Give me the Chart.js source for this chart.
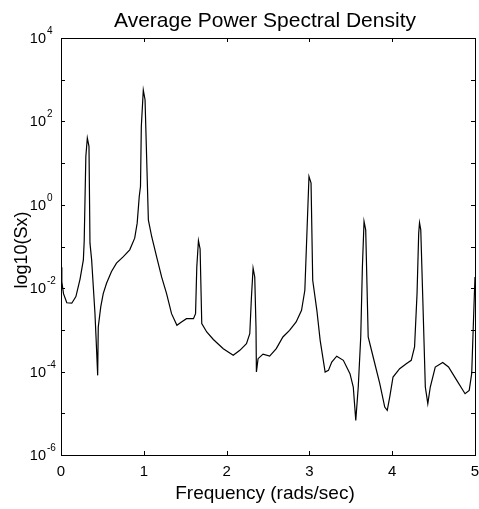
<!DOCTYPE html>
<html>
<head>
<meta charset="utf-8">
<script src="https://cdn.jsdelivr.net/npm/chart.js@4"></script>
<style>
  html, body { margin: 0; padding: 0; background: #fff; }
  canvas { display: block; }
</style>
</head>
<body>
<canvas id="psdChart" width="479" height="509"></canvas>
<script>
// frequency (rads/sec)
const freq = [
    0.00, 0.01, 0.03, 0.07, 0.13, 0.18, 0.23, 0.27, 0.28, 0.30,
    0.318, 0.338, 0.35, 0.37, 0.41, 0.423, 0.443, 0.45, 0.48, 0.51,
    0.55, 0.61, 0.67, 0.75, 0.83, 0.89, 0.92, 0.945, 0.96, 0.97,
    0.994, 1.015, 1.035, 1.055, 1.095, 1.155, 1.215, 1.275, 1.335, 1.40,
    1.455, 1.515, 1.60, 1.625, 1.64, 1.66, 1.68, 1.70, 1.76, 1.84,
    1.96, 2.08, 2.16, 2.24, 2.28, 2.30, 2.32, 2.34, 2.355, 2.36,
    2.38, 2.44, 2.52, 2.60, 2.68, 2.76, 2.84, 2.905, 2.945, 2.97,
    2.995, 3.02, 3.04, 3.09, 3.13, 3.19, 3.23, 3.27, 3.33, 3.41,
    3.49, 3.53, 3.56, 3.59, 3.62, 3.64, 3.66, 3.68, 3.71, 3.77,
    3.85, 3.91, 3.94, 3.97, 4.01, 4.09, 4.17, 4.23, 4.27, 4.30,
    4.32, 4.33, 4.345, 4.37, 4.40, 4.43, 4.46, 4.52, 4.61, 4.68,
    4.78, 4.88, 4.93, 4.96, 4.99, 5.00
];

// log10 of the spectral density
const logSx = [
    -1.50, -1.85, -2.13, -2.35, -2.36, -2.20, -1.78, -1.32, -0.88, 1.16,
    1.60, 1.40, -0.92, -1.32, -2.60, -3.17, -4.09, -2.93, -2.45, -2.13,
    -1.88, -1.60, -1.40, -1.25, -1.08, -0.80, -0.44, 0.20, 0.44, 1.88,
    2.75, 2.52, 1.08, -0.36, -0.76, -1.25, -1.73, -2.13, -2.61, -2.89,
    -2.81, -2.73, -2.73, -2.61, -1.49, -0.86, -1.06, -2.85, -3.05, -3.23,
    -3.45, -3.61, -3.49, -3.33, -3.09, -2.21, -1.52, -1.73, -2.93, -4.01,
    -3.69, -3.58, -3.63, -3.45, -3.17, -3.01, -2.81, -2.53, -2.05, -0.68,
    0.68, 0.52, -1.81, -2.53, -3.25, -4.01, -3.97, -3.77, -3.63, -3.73,
    -4.05, -4.37, -5.17, -4.37, -3.17, -1.49, -0.40, -0.60, -3.17, -3.65,
    -4.29, -4.85, -4.93, -4.61, -4.13, -3.93, -3.81, -3.73, -3.41, -2.13,
    -0.68, -0.43, -0.60, -2.29, -4.37, -4.77, -4.37, -3.89, -3.78, -3.89,
    -4.21, -4.53, -4.45, -4.05, -2.29, -1.73
];

const xTicks = [0, 1, 2, 3, 4, 5];
const yTickExps = [-6, -5, -4, -3, -2, -1, 0, 1, 2, 3, 4];
const yLabelExps = [-6, -4, -2, 0, 2, 4];

const FONT = '"Liberation Sans", Arial, Helvetica, sans-serif';

const points = freq.map((f, i) => ({ x: f, y: Math.pow(10, logSx[i]) }));

// frame, inward ticks and all labels, matlab style
const matlabAxes = {
    id: 'matlabAxes',
    beforeDraw(chart) {
        const ctx = chart.ctx;
        ctx.save();
        ctx.fillStyle = '#fff';
        ctx.fillRect(0, 0, chart.width, chart.height);
        ctx.restore();
    },
    afterDraw(chart) {
        const ctx = chart.ctx;
        const area = chart.chartArea;
        const xs = chart.scales.x;
        const ys = chart.scales.y;

        ctx.save();
        ctx.strokeStyle = '#000';
        ctx.lineWidth = 1;
        ctx.strokeRect(area.left + 0.5, area.top + 0.5, area.right - area.left, area.bottom - area.top);

        ctx.beginPath();
        xTicks.forEach(v => {
            const px = Math.round(xs.getPixelForValue(v)) + 0.5;
            ctx.moveTo(px, area.bottom);
            ctx.lineTo(px, area.bottom - 4);
            ctx.moveTo(px, area.top);
            ctx.lineTo(px, area.top + 4);
        });
        yTickExps.forEach(e => {
            const py = Math.round(ys.getPixelForValue(Math.pow(10, e))) + 0.5;
            ctx.moveTo(area.left, py);
            ctx.lineTo(area.left + 4, py);
            ctx.moveTo(area.right, py);
            ctx.lineTo(area.right - 4, py);
        });
        ctx.stroke();

        ctx.fillStyle = '#000';

        // x tick labels
        ctx.font = '15px ' + FONT;
        ctx.textAlign = 'center';
        ctx.textBaseline = 'alphabetic';
        xTicks.forEach(v => {
            ctx.fillText(String(v), xs.getPixelForValue(v), area.bottom + 21);
        });

        // y tick labels: "10" right-aligned, exponent raised after it
        const tenRight = area.left - 15;
        yLabelExps.forEach(e => {
            const py = ys.getPixelForValue(Math.pow(10, e));
            const expText = e < 0 ? '-' + Math.abs(e) : String(e);
            ctx.font = '14.5px ' + FONT;
            ctx.textAlign = 'right';
            ctx.textBaseline = 'middle';
            ctx.fillText('10', tenRight, py + 1);
            ctx.font = '10px ' + FONT;
            ctx.textAlign = 'left';
            ctx.textBaseline = 'alphabetic';
            ctx.fillText(expText, tenRight + 1, py - 4);
        });

        // title
        const cx = (area.left + area.right) / 2 - 3;
        ctx.font = '21px ' + FONT;
        ctx.textAlign = 'center';
        ctx.textBaseline = 'alphabetic';
        ctx.fillText('Average Power Spectral Density', cx, 27);

        // x axis title
        ctx.font = '19px ' + FONT;
        ctx.fillText('Frequency (rads/sec)', cx, 499);

        // y axis title
        ctx.save();
        ctx.font = '18px ' + FONT;
        ctx.translate(27, 250);
        ctx.rotate(-Math.PI / 2);
        ctx.fillText('log10(Sx)', 0, 0);
        ctx.restore();

        ctx.restore();
    }
};

new Chart(document.getElementById('psdChart'), {
    type: 'line',
    data: {
        datasets: [{
            label: 'Sx',
            data: points,
            borderColor: '#000',
            borderWidth: 1.2,
            pointRadius: 0,
            tension: 0,
            fill: false
        }]
    },
    options: {
        responsive: false,
        animation: false,
        layout: {
            padding: { left: 61, right: 4, top: 38, bottom: 54 }
        },
        plugins: {
            legend: { display: false },
            tooltip: { enabled: false }
        },
        scales: {
            x: {
                type: 'linear',
                display: false,
                min: 0,
                max: 5
            },
            y: {
                type: 'logarithmic',
                display: false,
                min: 1e-6,
                max: 1e4,
                afterBuildTicks: scale => {
                    scale.ticks = yTickExps.map(e => ({ value: Math.pow(10, e) }));
                }
            }
        }
    },
    plugins: [matlabAxes]
});
</script>
</body>
</html>
